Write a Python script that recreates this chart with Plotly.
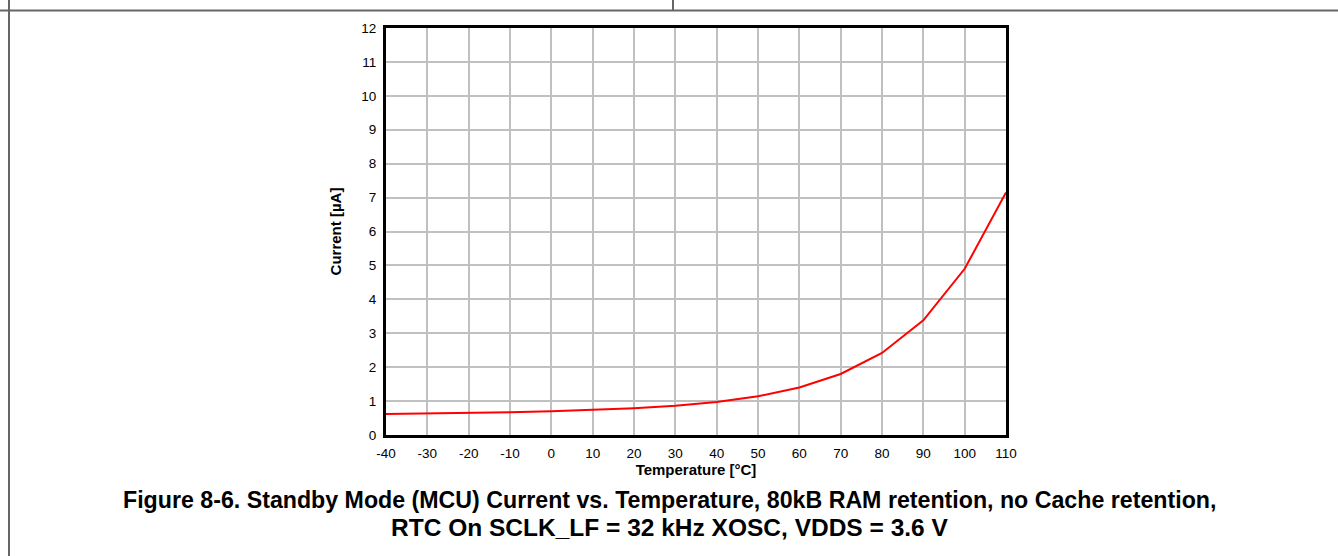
import plotly.graph_objects as go

temperature_c = [-40, -30, -20, -10, 0, 10, 20, 30, 40, 50, 60, 70, 80, 90, 100, 110]
current_ua = [0.62, 0.63, 0.65, 0.67, 0.70, 0.74, 0.79, 0.86, 0.97, 1.14, 1.40, 1.80, 2.42, 3.38, 4.90, 7.15]
x_ticks = list(range(-40, 111, 10))
x_tick_labels = [str(v) for v in x_ticks]
y_ticks = list(range(0, 13))
caption_line1 = "Figure 8-6. Standby Mode (MCU) Current vs. Temperature, 80kB RAM retention, no Cache retention,"
caption_line2 = "RTC On SCLK_LF = 32 kHz XOSC, VDDS = 3.6 V"

W, H = 1338, 556
L, R, T, B = 386, 1006, 28, 435


def px(x):
    return (x - L) / (R - L)


def py(y):
    return (B - y) / (B - T)


fig = go.Figure()
fig.add_trace(go.Scatter(x=temperature_c, y=current_ua, mode="lines",
                         line=dict(color="#ff0000", width=2), showlegend=False))

font = "Liberation Sans, Arial, sans-serif"
fig.update_layout(
    width=W, height=H,
    margin=dict(l=L, r=W - R, t=T, b=H - B, pad=0),
    paper_bgcolor="white", plot_bgcolor="white",
    font=dict(family=font, color="black", size=13.5),
    xaxis=dict(range=[-40, 110], tickvals=x_ticks, ticktext=x_tick_labels, showgrid=True,
               gridcolor="#c0c0c0", gridwidth=2, showline=True, linecolor="black", linewidth=3,
               mirror=True, zeroline=False, ticks="", ticklabelstandoff=4,
               tickfont=dict(size=13.5),
               title=dict(text="<b>Temperature [°C]</b>", font=dict(size=15), standoff=2)),
    yaxis=dict(range=[0, 12], tickvals=y_ticks, showgrid=True, gridcolor="#c0c0c0",
               gridwidth=2, showline=True, linecolor="black", linewidth=3, mirror=True,
               zeroline=False, ticks="", ticklabelstandoff=4, tickfont=dict(size=13.5),
               title=dict(text="<b>Current [µA]</b>", font=dict(size=15), standoff=17)),
    shapes=[
        dict(type="line", xref="paper", yref="paper", x0=px(-5), x1=px(W + 5), y0=py(10.5), y1=py(10.5),
             line=dict(color="#666666", width=2)),
        dict(type="line", xref="paper", yref="paper", x0=px(9), x1=px(9), y0=py(-5), y1=py(H + 5),
             line=dict(color="#666666", width=2)),
        dict(type="line", xref="paper", yref="paper", x0=px(673), x1=px(673), y0=py(-5), y1=py(10.5),
             line=dict(color="#666666", width=2)),
    ],
    annotations=[
        dict(text="<b>" + caption_line1 + "</b>", xref="paper", yref="paper", x=px(669), y=py(500),
             xanchor="center", yanchor="middle", showarrow=False,
             font=dict(size=23.2, family=font, color="black")),
        dict(text="<b>" + caption_line2 + "</b>", xref="paper", yref="paper", x=px(669), y=py(527),
             xanchor="center", yanchor="middle", showarrow=False,
             font=dict(size=24.5, family=font, color="black")),
    ],
)

fig.write_html("out.html", config={"displayModeBar": False},
               post_script="document.body.style.margin='0';document.body.style.overflow='hidden';")
